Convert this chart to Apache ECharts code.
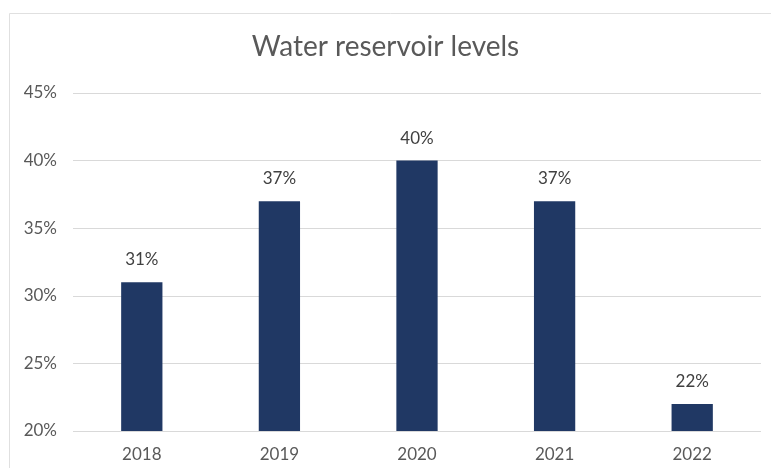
<!DOCTYPE html>
<html><head><meta charset="utf-8">
<script src="https://cdn.jsdelivr.net/npm/echarts@6/dist/echarts.min.js"></script>
<style>html,body{margin:0;padding:0;background:#fff}#c{width:771px;height:468px}</style>
</head><body><div id="c"></div>
<script>
const categories = ['2018','2019','2020','2021','2022'];
const levels = [31, 37, 40, 37, 22];
const yTicks = [20, 25, 30, 35, 40, 45];

const chart = echarts.init(document.getElementById('c'));
chart.setOption({
  backgroundColor: '#fff',
  animation: false,
  graphic: [{
    type: 'rect', shape: {x: 9.5, y: 13.5, width: 800, height: 500},
    style: {fill: 'none', stroke: '#e0e0e0', lineWidth: 1}, silent: true
  }],
  title: {
    text: 'Water reservoir levels', left: 'center', top: 28,
    textStyle: {fontFamily: 'Lato', fontWeight: 'normal', fontSize: 28, color: '#595959'}
  },
  grid: {left: 73, right: 10, top: 93, bottom: 37},
  xAxis: {
    type: 'category', data: categories,
    axisLine: {show: false}, axisTick: {show: false},
    axisLabel: {fontFamily: 'Lato', fontSize: 17, color: '#595959', margin: 15}
  },
  yAxis: {
    type: 'value', min: yTicks[0], max: yTicks[yTicks.length-1], interval: 5,
    axisLine: {show: false}, axisTick: {show: false},
    splitLine: {lineStyle: {color: '#d9d9d9', width: 1}},
    axisLabel: {fontFamily: 'Lato', fontSize: 17, color: '#595959', margin: 16, formatter: v => v + '%'}
  },
  series: [{
    type: 'bar', data: levels, barWidth: '30%',
    itemStyle: {color: '#203864'},
    label: {show: true, position: 'top', distance: 14, fontFamily: 'Lato', fontSize: 17, color: '#404040', formatter: p => p.value + '%'}
  }]
});
</script></body></html>
